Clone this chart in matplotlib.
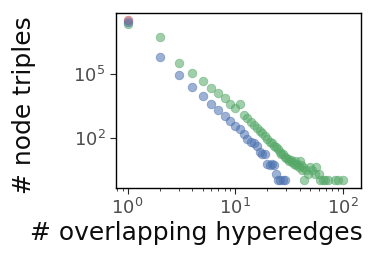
import numpy as np
import matplotlib
matplotlib.use("Agg")
from matplotlib import pyplot as plt
from matplotlib import ticker

# ----- data -----
blue_x = [1, 2, 3, 4, 5, 6, 7, 8, 9, 10, 11, 12, 13, 14, 15, 16, 17, 18, 19,
          20, 21, 22, 23, 24, 25, 26, 28, 29]
blue_y = [3.0e7, 6.1e5, 8.7e4, 2.34e4, 8900, 4000, 1950, 1100, 590, 355, 257,
          155, 90, 63, 59, 40, 21, 18, 17,
          6, 5, 6, 5, 2, 1, 1, 1, 1]

green_x = [1, 2, 3, 4, 5, 6, 7, 8, 9, 10, 11, 12, 13, 14, 15, 16, 17, 18, 19,
           20, 21, 22, 23, 24, 25, 26, 27, 28, 29, 30,
           31, 32, 33, 34, 35, 36, 37, 38, 39, 40, 41, 42, 43, 44, 46, 48,
           50, 52, 55, 57, 60, 62, 66, 69, 73, 85, 90, 100]
green_y = [2.3e7, 5.4e6, 3.2e5, 1.07e5, 4.7e4, 2.1e4, 1.23e4, 7100, 3900, 2400,
           3700, 1170, 810, 560, 400, 295, 214, 158, 120,
           83, 65, 54, 42, 38, 28, 22, 18, 17, 13, 11,
           10, 8, 9, 7, 6, 8, 5, 6, 4, 8, 5, 3, 4, 1, 3, 2,
           4, 3, 2, 4, 2, 1, 1, 1, 1, 1, 1, 1]

red_x = [1]
red_y = [3.4e7]

c_blue = "#4C72B0"
c_green = "#55A868"
c_red = "#C44E52"

fig = plt.figure(figsize=(3.75, 2.6), dpi=100)
ax = fig.add_axes([0.309, 0.277, 0.654, 0.673])

kw = dict(s=38, alpha=0.55, linewidths=0.6)
ax.scatter(green_x, green_y, color=c_green, **kw)
ax.scatter(red_x, red_y, color=c_red, **kw)
ax.scatter(blue_x, blue_y, color=c_blue, **kw)

ax.set_xscale("log")
ax.set_yscale("log")
ax.set_xlim(0.778, 149)
ax.set_ylim(10 ** -0.37, 10 ** 7.88)

ax.yaxis.set_major_locator(ticker.FixedLocator([1e2, 1e5]))
ax.yaxis.set_minor_locator(ticker.NullLocator())

ax.tick_params(which="major", direction="out", length=4, width=0.8,
               labelsize=13, labelcolor="0.3", color="0.15")
ax.tick_params(which="minor", direction="out", length=2, width=0.6, color="0.15")

for s in ax.spines.values():
    s.set_linewidth(1.0)
    s.set_color("black")

ax.set_xlabel("# overlapping hyperedges", fontsize=18, color="0.05", labelpad=2)
ax.xaxis.label.set_x(0.3286)
ax.set_ylabel("# node triples", fontsize=18, color="0.05", labelpad=27)
ax.yaxis.label.set_y(0.476)

fig.savefig("out.png", dpi=100)
